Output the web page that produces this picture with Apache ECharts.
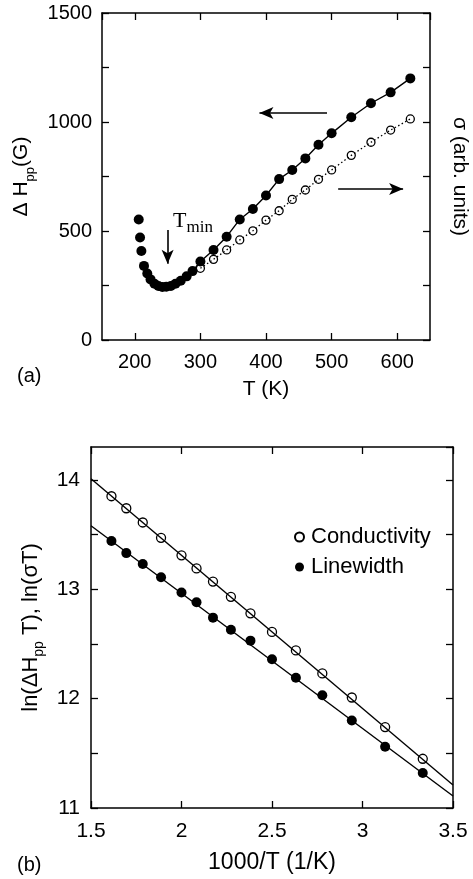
<!DOCTYPE html>
<html>
<head>
<meta charset="utf-8">
<script src="https://cdn.jsdelivr.net/npm/echarts@6/dist/echarts.min.js"></script>
<style>
html,body{margin:0;padding:0;background:#fff;}
#c{width:473px;height:879px;}
</style>
</head>
<body>
<div id="c"></div>
<script>
// ---- Panel (a): linewidth and conductivity vs T ----
const T_low = [206, 208, 210, 214, 219, 224, 230, 236, 242, 248, 255, 262, 270, 279, 288];
const H_low = [553, 470, 408, 340, 305, 278, 258, 248, 243, 244, 248, 258, 272, 292, 316];
const T_main = [300, 320, 340, 360, 380, 400, 420, 440, 460, 480, 500, 530, 560, 590, 620];
const H_main = [360, 413, 474, 553, 601, 663, 738, 780, 833, 896, 948, 1022, 1086, 1136, 1200];
const S_main = [329, 370, 413, 459, 501, 550, 593, 645, 688, 737, 780, 847, 907, 963, 1014];

// ---- Panel (b): Arrhenius plot ----
const invT = [1.613, 1.695, 1.786, 1.887, 2.0, 2.083, 2.174, 2.273, 2.381, 2.5, 2.632, 2.778, 2.941, 3.125, 3.333];
const lnSigmaT = [13.85, 13.74, 13.61, 13.47, 13.31, 13.19, 13.07, 12.93, 12.78, 12.61, 12.44, 12.23, 12.01, 11.74, 11.45];
const lnHT = [13.44, 13.33, 13.23, 13.11, 12.97, 12.88, 12.74, 12.63, 12.53, 12.36, 12.19, 12.03, 11.80, 11.56, 11.32];
const fitX = [1.5, 3.5];
const fitSigma = [14.01, 11.21];
const fitH = [13.58, 11.11];

const zip = (a, b) => a.map((v, i) => [v, b[i]]);
const FONT = '"Liberation Sans", Arial, Helvetica, sans-serif';
const BLK = '#000';

function near(v, step) { return Math.abs(v / step - Math.round(v / step)) < 1e-6; }

function axisBase(extra) {
  return Object.assign({
    type: 'value',
    axisLine: { show: true, onZero: false, lineStyle: { color: BLK, width: 1.5 } },
    axisTick: { show: true, inside: true, length: 7, lineStyle: { color: BLK, width: 1.3 } },
    splitLine: { show: false },
    minorTick: { show: false },
    axisLabel: { show: false },
    nameTextStyle: { color: BLK, fontSize: 21, fontFamily: FONT }
  }, extra);
}

const chart = echarts.init(document.getElementById('c'), null, { renderer: 'canvas' });

const labA_x = { show: true, color: BLK, fontSize: 20, fontFamily: FONT, margin: 12,
  showMinLabel: false, showMaxLabel: false,
  formatter: v => (near(v, 100) && v >= 200 && v <= 600) ? String(v) : '' };
const labA_y = { show: true, color: BLK, fontSize: 20, fontFamily: FONT, margin: 10,
  formatter: v => near(v, 500) ? String(v) : '' };
const labB_x = { show: true, color: BLK, fontSize: 21, fontFamily: FONT, margin: 13,
  formatter: v => String(v) };
const labB_y = { show: true, color: BLK, fontSize: 21, fontFamily: FONT, margin: 11,
  showMaxLabel: false,
  formatter: v => near(v, 1) && v <= 14 ? String(v) : '' };

const option = {
  backgroundColor: '#fff',
  animation: false,
  textStyle: { fontFamily: FONT, color: BLK },
  grid: [
    { left: 102, top: 13, width: 328, height: 327, containLabel: false, outerBoundsMode: 'none' },
    { left: 91, top: 447, width: 362, height: 361, containLabel: false, outerBoundsMode: 'none' }
  ],
  xAxis: [
    axisBase({
      gridIndex: 0, position: 'bottom', min: 150, max: 650, splitNumber: 5,
      axisLabel: labA_x,
      name: 'T (K)', nameLocation: 'middle', nameGap: 39
    }),
    axisBase({
      gridIndex: 0, position: 'top', min: 150, max: 650, splitNumber: 5
    }),
    axisBase({
      gridIndex: 1, position: 'bottom', min: 1.5, max: 3.5, interval: 0.5,
      axisLabel: labB_x,
      name: '1000/T (1/K)', nameLocation: 'middle', nameGap: 43,
      nameTextStyle: { color: BLK, fontSize: 23, fontFamily: FONT }
    }),
    axisBase({
      gridIndex: 1, position: 'top', min: 1.5, max: 3.5, interval: 0.5
    })
  ],
  yAxis: [
    axisBase({
      gridIndex: 0, position: 'left', min: 0, max: 1500, interval: 250,
      axisLabel: labA_y,
      name: '{a|Δ H}{s|pp}{a|(G)}', nameLocation: 'middle', nameGap: 37, nameRotate: 90,
      nameTextStyle: {
        color: BLK, fontFamily: FONT,
        rich: {
          a: { fontSize: 21, fontFamily: FONT, color: BLK, lineHeight: 30, verticalAlign: 'middle' },
          s: { fontSize: 13, fontFamily: FONT, color: BLK, lineHeight: 13, verticalAlign: 'bottom' }
        }
      }
    }),
    axisBase({
      gridIndex: 0, position: 'right', min: 0, max: 1500, interval: 250,
      name: 'σ (arb. units)', nameLocation: 'middle', nameGap: 19, nameRotate: -90
    }),
    axisBase({
      gridIndex: 1, position: 'left', min: 11, max: 14.3, interval: 0.5,
      axisLabel: labB_y,
      name: '{a|ln(ΔH}{s|pp}{a| T), ln(σT)}', nameLocation: 'middle', nameGap: 40, nameRotate: 90,
      nameTextStyle: {
        color: BLK, fontFamily: FONT,
        rich: {
          a: { fontSize: 22, fontFamily: FONT, color: BLK, lineHeight: 30, verticalAlign: 'middle' },
          s: { fontSize: 14, fontFamily: FONT, color: BLK, lineHeight: 14, verticalAlign: 'bottom' }
        }
      }
    }),
    axisBase({
      gridIndex: 1, position: 'right', min: 11, max: 14.3, interval: 0.5
    })
  ],
  legend: {
    data: ['Conductivity', 'Linewidth'],
    orient: 'vertical', left: 289, top: 521, itemGap: 8,
    itemWidth: 9, itemHeight: 9,
    textStyle: { fontSize: 22, fontFamily: FONT, color: BLK, padding: [0, 0, 0, 2] },
    selectedMode: false
  },
  series: [
    // panel (a)
    {
      name: 'σ dotted', type: 'line', xAxisIndex: 0, yAxisIndex: 1,
      data: zip(T_main, S_main), showSymbol: false, symbol: 'none',
      lineStyle: { color: BLK, width: 1.3, type: [1.5, 2.5] }, z: 3
    },
    {
      name: 'σ points', type: 'scatter', xAxisIndex: 0, yAxisIndex: 1,
      data: zip(T_main, S_main), symbol: 'circle', symbolSize: 8,
      itemStyle: { color: 'rgba(0,0,0,0)', borderColor: BLK, borderWidth: 1.3, opacity: 1 }, z: 4
    },
    {
      name: 'ΔH line', type: 'line', xAxisIndex: 0, yAxisIndex: 0,
      data: [[T_low[T_low.length - 1], H_low[H_low.length - 1]]].concat(zip(T_main, H_main)),
      showSymbol: false, symbol: 'none',
      lineStyle: { color: BLK, width: 1.4 }, z: 3,
      markLine: {
        silent: true, symbol: ['none', 'arrow'], symbolSize: [9, 14],
        label: { show: false },
        lineStyle: { color: BLK, width: 1.6, type: 'solid' },
        data: [
          [{ coord: [493, 1041] }, { coord: [390, 1041] }],
          [{ coord: [510, 693] }, { coord: [609, 693] }],
          [{ coord: [250, 505] }, { coord: [250, 350] }]
        ]
      }
    },
    {
      name: 'ΔH low', type: 'scatter', xAxisIndex: 0, yAxisIndex: 0,
      data: zip(T_low, H_low), symbol: 'circle', symbolSize: 10,
      itemStyle: { color: BLK, opacity: 1 }, z: 5
    },
    {
      name: 'ΔH main', type: 'scatter', xAxisIndex: 0, yAxisIndex: 0,
      data: zip(T_main, H_main), symbol: 'circle', symbolSize: 10,
      itemStyle: { color: BLK, opacity: 1 }, z: 5
    },
    // panel (b)
    {
      name: 'fitSigma', type: 'line', xAxisIndex: 2, yAxisIndex: 2,
      data: zip(fitX, fitSigma), showSymbol: false, symbol: 'none',
      lineStyle: { color: BLK, width: 1.4 }, z: 3
    },
    {
      name: 'fitH', type: 'line', xAxisIndex: 2, yAxisIndex: 2,
      data: zip(fitX, fitH), showSymbol: false, symbol: 'none',
      lineStyle: { color: BLK, width: 1.4 }, z: 3
    },
    {
      name: 'Conductivity', type: 'scatter', xAxisIndex: 2, yAxisIndex: 2,
      data: zip(invT, lnSigmaT), symbol: 'circle', symbolSize: 9,
      itemStyle: { color: 'rgba(0,0,0,0)', borderColor: BLK, borderWidth: 1.3, opacity: 1 }, z: 4
    },
    {
      name: 'Linewidth', type: 'scatter', xAxisIndex: 2, yAxisIndex: 2,
      data: zip(invT, lnHT), symbol: 'circle', symbolSize: 10,
      itemStyle: { color: BLK, opacity: 1 }, z: 4
    }
  ],
  graphic: [
    { type: 'text', left: 17, top: 366, style: { text: '(a)', fontSize: 20, fontFamily: FONT, fill: BLK } },
    { type: 'text', left: 17, top: 855, style: { text: '(b)', fontSize: 20, fontFamily: FONT, fill: BLK } },
    {
      type: 'text', left: 173, top: 210,
      style: {
        text: '{t|T}{m|min}',
        rich: {
          t: { fontSize: 22, fontFamily: '"Liberation Serif", "DejaVu Serif", serif', fill: BLK, lineHeight: 30, verticalAlign: 'middle' },
          m: { fontSize: 17, fontFamily: '"Liberation Serif", "DejaVu Serif", serif', fill: BLK, lineHeight: 17, verticalAlign: 'bottom' }
        }
      }
    }
  ]
};

chart.setOption(option);
</script>
</body>
</html>
